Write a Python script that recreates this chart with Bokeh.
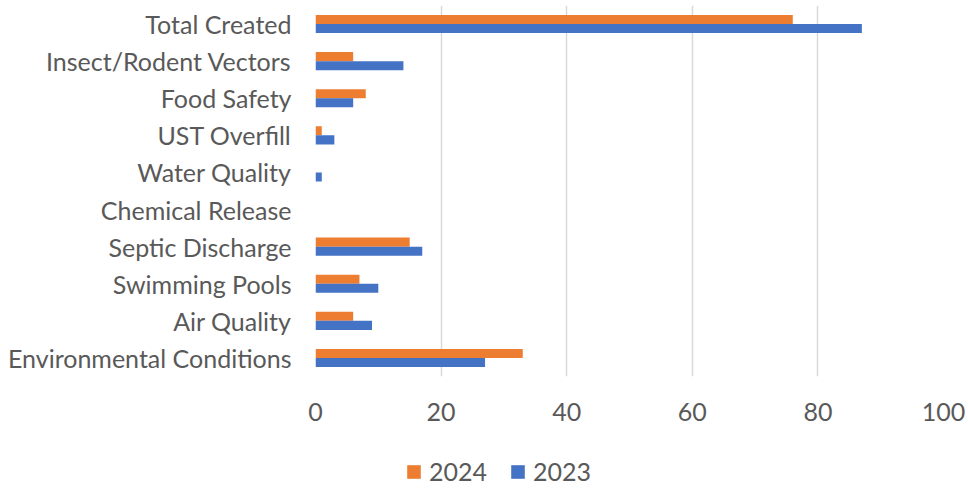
from bokeh.plotting import figure
from bokeh.layouts import column
from bokeh.models import ColumnDataSource, Legend, LegendItem, FactorRange, FixedTicker
from bokeh.transform import dodge
from bokeh.embed import file_html
from bokeh.resources import INLINE

categories = ["Total Created", "Insect/Rodent Vectors", "Food Safety", "UST Overfill",
              "Water Quality", "Chemical Release", "Septic Discharge", "Swimming Pools",
              "Air Quality", "Environmental Conditions"]
values_2024 = [76, 6, 8, 1, 0, 0, 15, 7, 6, 33]
values_2023 = [87, 14, 6, 3, 1, 0, 17, 10, 9, 27]
series_names = ["2024", "2023"]
series_cols = ["v2024", "v2023"]
series_colors = ["#ED7D31", "#4472C4"]
x_ticks = [0, 20, 40, 60, 80, 100]

FONT = "Lato"
GREY = "#595959"
W = 966

source = ColumnDataSource(dict(cat=categories, v2024=values_2024, v2023=values_2023))

p = figure(width=W, height=440, output_backend="svg", toolbar_location=None,
           y_range=FactorRange(factors=list(reversed(categories))),
           x_range=(0, 100),
           min_border_left=315, min_border_right=23, min_border_top=5, min_border_bottom=64)
p.outline_line_color = None

p.hbar(y=dodge("cat", 0.122, range=p.y_range), right="v2024", left=0, height=0.243,
       source=source, color=series_colors[0], line_color=None)
p.hbar(y=dodge("cat", -0.122, range=p.y_range), right="v2023", left=0, height=0.243,
       source=source, color=series_colors[1], line_color=None)

p.xaxis.ticker = FixedTicker(ticks=x_ticks)
p.xaxis.axis_line_color = None
p.xaxis.major_tick_line_color = None
p.xaxis.minor_tick_line_color = None
p.xaxis.major_label_text_font = FONT
p.xaxis.major_label_text_font_size = "25px"
p.xaxis.major_label_text_color = GREY
p.xaxis.major_label_standoff = 20

p.yaxis.axis_line_color = None
p.yaxis.major_tick_line_color = None
p.yaxis.minor_tick_line_color = None
p.yaxis.major_label_text_font = FONT
p.yaxis.major_label_text_font_size = "25px"
p.yaxis.major_label_text_color = GREY
p.yaxis.major_label_standoff = 18

p.xgrid.grid_line_color = "#d9d9d9"
p.xgrid.grid_line_width = 1.5
p.ygrid.grid_line_color = None

# legend strip below the chart (its zero-height bars draw nothing; only the legend shows)
lg = figure(width=W, height=47, output_backend="svg", toolbar_location=None,
            x_range=(-2, -1), y_range=FactorRange(factors=list(reversed(categories))),
            min_border=0)
lg.axis.visible = False
lg.grid.grid_line_color = None
lg.outline_line_color = None
items = []
for name, col, color in zip(series_names, series_cols, series_colors):
    r = lg.hbar(y="cat", right=col, left=0, height=0, source=source, color=color, line_color=None)
    items.append(LegendItem(label=name, renderers=[r]))
legend = Legend(items=items, orientation="horizontal", location=(90, 1),
                label_text_font=FONT, label_text_font_size="25px", label_text_color=GREY,
                glyph_width=17, glyph_height=17, spacing=22, label_standoff=7,
                background_fill_alpha=0, border_line_color=None, margin=0, padding=0)
lg.add_layout(legend, "center")

layout = column(p, lg, spacing=0)
open("out.html", "w").write(file_html(layout, INLINE))
